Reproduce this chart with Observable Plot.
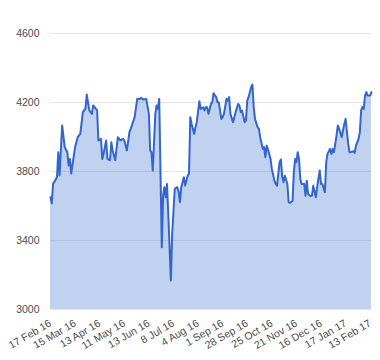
<!DOCTYPE html>
<html>
<head>
<meta charset="utf-8">
<script src="https://cdn.jsdelivr.net/npm/d3@7"></script>
<script src="https://cdn.jsdelivr.net/npm/@observablehq/plot@0.6"></script>
<style>
  html, body { margin: 0; padding: 0; background: #fff; }
  #chart { width: 380px; height: 360px; }
</style>
</head>
<body>
<div id="chart"></div>
<script>
// Trading-day index (x) and closing value (y)
const dayIndex = [0,1,2,3,5,6,7,9,11,13,14,15,16,19,21,23,25,27,28,30,32,33,36,37,39,40,41,43,44,46,47,48,50,52,54,56,57,59,61,62,65,67,69,70,72,74,76,77,78,79,81,82,83,84,86,87,88,89,90,91,93,94,96,98,99,100,101,103,104,106,107,108,109,111,112,113,115,116,118,119,120,121,122,124,125,126,128,129,130,132,133,134,136,137,138,139,141,143,145,146,147,148,150,151,152,153,155,156,157,158,160,161,162,164,165,166,167,169,170,171,173,174,175,177,178,179,180,181,183,184,185,187,188,189,190,191,192,193,194,196,197,198,199,201,202,203,205,206,208,209,210,212,213,214,216,217,218,219,221,222,223,225,226,227,228,230,231,232,234,235,236,238,239,240,241,242,243,244,245,247,248];
const closeValue = [3651,3615,3730,3740,3767,3912,3777,4067,3941,3912,3835,3873,3788,3941,3999,4018,4144,4163,4246,4154,4134,4183,4154,3980,3989,3873,3902,3980,3873,3865,3970,3922,3865,3999,3980,3989,3980,3922,4028,4047,4115,4221,4221,4227,4217,4221,4134,3922,3912,3806,4134,4183,4163,4221,3361,3661,3709,3651,3728,3554,3168,3438,3699,3709,3680,3622,3709,3767,3719,3777,3786,4115,4076,4018,4057,4086,4207,4163,4172,4154,4172,4173,4134,4192,4202,4254,4231,4202,4202,4105,4115,4134,4221,4211,4231,4134,4086,4144,4192,4182,4144,4153,4086,4096,4211,4231,4289,4304,4173,4105,4057,4047,3999,3931,3941,3883,3950,3902,3873,3815,3747,3728,3718,3854,3870,3770,3738,3776,3728,3622,3618,3631,3796,3873,3854,3912,3873,3757,3728,3728,3660,3747,3670,3657,3660,3718,3651,3709,3806,3728,3728,3680,3854,3902,3931,3902,3931,3912,4009,4067,4047,3999,4038,4076,4105,3960,3912,3912,3918,3908,3950,3989,4028,4154,4173,4163,4240,4260,4240,4240,4260];

const xTickIndex = [0,19,38,57,76,95,114,133,152,171,190,209,228,247];
const xTickLabels = ["17 Feb 16","15 Mar 16","13 Apr 16","11 May 16","13 Jun 16","8 Jul 16","4 Aug 16","1 Sep 16","28 Sep 16","25 Oct 16","21 Nov 16","16 Dec 16","17 Jan 17","13 Feb 17"];
const yTicks = [3000, 3400, 3800, 4200, 4600];

const data = dayIndex.map((d, k) => ({i: d, v: closeValue[k]}));

const chart = Plot.plot({
  width: 380,
  height: 360,
  marginLeft: 50,
  marginRight: 9,
  marginTop: 33,
  marginBottom: 51,
  style: {fontFamily: "Arial, 'Liberation Sans', sans-serif", fontSize: "10.5px", color: "#4a4a4a", background: "white", overflow: "visible"},
  x: {type: "linear", domain: [0, 248], label: null},
  y: {domain: [3000, 4600], label: null},
  marks: [
    Plot.gridY(yTicks, {stroke: "#e6e6e6", strokeOpacity: 1}),
    Plot.areaY(data, {x: "i", y1: 3000, y2: "v", fill: "#3366cc", fillOpacity: 0.3}),
    Plot.lineY(data, {x: "i", y: "v", stroke: "#3366cc", strokeWidth: 2}),
    Plot.axisX({ticks: xTickIndex, tickFormat: d => xTickLabels[xTickIndex.indexOf(d)], tickRotate: -30, tickSize: 0, tickPadding: 13, label: null}),
    Plot.axisY({ticks: yTicks, tickSize: 0, tickPadding: 11, tickFormat: d => String(d), label: null})
  ]
});
document.getElementById("chart").appendChild(chart);
</script>
</body>
</html>
